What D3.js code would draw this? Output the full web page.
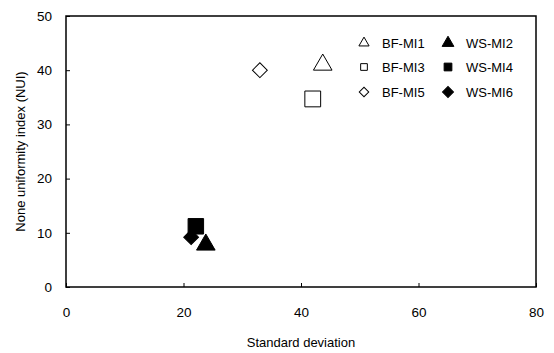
<!DOCTYPE html>
<html>
<head>
<meta charset="utf-8">
<script src="https://cdn.jsdelivr.net/npm/d3@7"></script>
<style>
  body { margin: 0; background: #fff; }
  text { font-family: "Liberation Sans", Arial, sans-serif; fill: #000; }
</style>
</head>
<body>
<div id="chart"></div>
<script>
// series data
const seriesNames = ["BF-MI1", "WS-MI2", "BF-MI3", "WS-MI4", "BF-MI5", "WS-MI6"];
const stdDev = [43.7, 23.8, 42.0, 22.1, 33.0, 21.3];
const nui = [41.0, 7.8, 34.7, 11.2, 40.0, 9.2];
const xTicks = [0, 20, 40, 60, 80];
const yTicks = [0, 10, 20, 30, 40, 50];

const width = 554, height = 353;
const margin = { top: 16, right: 18, bottom: 66, left: 66 };
const w = width - margin.left - margin.right;
const h = height - margin.top - margin.bottom;

const svg = d3.select("#chart").append("svg")
    .attr("width", width)
    .attr("height", height);

const g = svg.append("g")
    .attr("transform", `translate(${margin.left},${margin.top})`);

const x = d3.scaleLinear().domain([0, 80]).range([0, w]);
const y = d3.scaleLinear().domain([0, 50]).range([h, 0]);

// frame
g.append("rect")
    .attr("width", w).attr("height", h)
    .attr("fill", "none").attr("stroke", "#000").attr("stroke-width", 1.5);

// x axis, ticks pointing inward
const xAxis = g.append("g")
    .attr("transform", `translate(0,${h})`)
    .call(d3.axisBottom(x).tickValues(xTicks).tickSizeInner(-4).tickSizeOuter(0).tickPadding(20));
xAxis.select(".domain").remove();
xAxis.selectAll("text").style("font-size", "13.5px");

const yAxis = g.append("g")
    .call(d3.axisLeft(y).tickValues(yTicks).tickSizeInner(-4).tickSizeOuter(0).tickPadding(14));
yAxis.select(".domain").remove();
yAxis.selectAll("text").style("font-size", "13.5px");

svg.append("text")
    .attr("x", margin.left + w / 2)
    .attr("y", 347)
    .attr("text-anchor", "middle")
    .style("font-size", "13px")
    .text("Standard deviation");

svg.append("text")
    .attr("transform", "rotate(-90)")
    .attr("x", -(margin.top + h / 2))
    .attr("y", 25)
    .attr("text-anchor", "middle")
    .style("font-size", "13px")
    .text("None uniformity index (NUI)");

// marker shape per series (diamond = square turned 45 degrees)
const shapes = [d3.symbolTriangle, d3.symbolTriangle, d3.symbolSquare, d3.symbolSquare, d3.symbolSquare, d3.symbolSquare];
const rotations = [0, 0, 0, 0, 45, 45];
const filled = [false, true, false, true, false, true];
const sizes = [150, 150, 250, 240, 110, 110];

const points = seriesNames.map((name, i) => ({ name, sd: stdDev[i], v: nui[i], i }));

g.selectAll(".pt")
    .data(points)
    .enter()
    .append("path")
    .attr("class", "pt")
    .attr("transform", d => `translate(${x(d.sd)},${y(d.v)}) rotate(${rotations[d.i]})`)
    .attr("d", d => d3.symbol().type(shapes[d.i]).size(sizes[d.i])())
    .attr("fill", d => filled[d.i] ? "#000" : "#fff")
    .attr("stroke", "#000")
    .attr("stroke-width", 1);

// legend: two columns, three rows
const legend = svg.append("g");
const items = legend.selectAll(".leg")
    .data(points)
    .enter()
    .append("g")
    .attr("class", "leg")
    .attr("transform", d => `translate(${d.i % 2 === 0 ? 364 : 448},${[43, 67, 92][Math.floor(d.i / 2)]})`);

items.append("path")
    .attr("transform", d => `rotate(${rotations[d.i]})`)
    .attr("d", d => d3.symbol().type(shapes[d.i]).size(d.i % 2 === 0 ? 45 : 60)())
    .attr("fill", d => filled[d.i] ? "#000" : "#fff")
    .attr("stroke", "#000")
    .attr("stroke-width", 1);

items.append("text")
    .attr("x", d => d.i % 2 === 0 ? 18 : 18)
    .attr("y", 0)
    .attr("dy", "0.35em")
    .style("font-size", "13px")
    .text(d => d.name);
</script>
</body>
</html>
